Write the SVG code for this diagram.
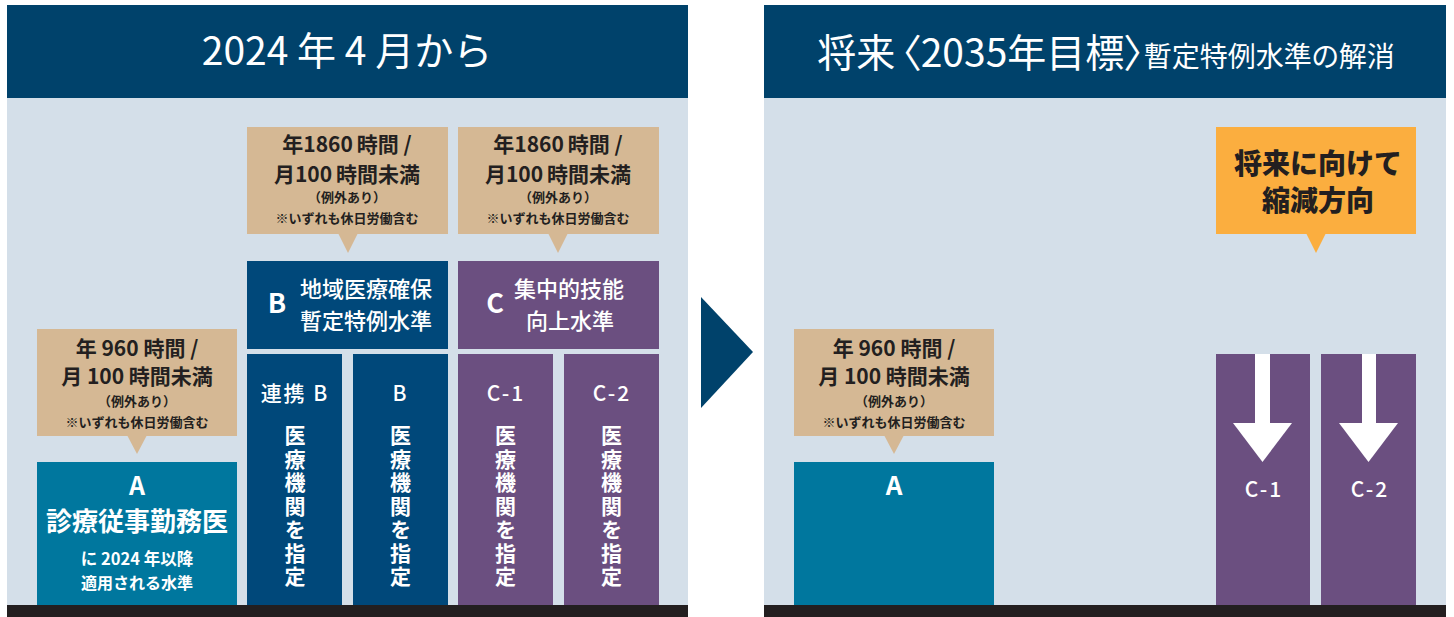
<svg xmlns="http://www.w3.org/2000/svg" width="1454" height="617" viewBox="0 0 1454 617">
<defs>
<style>
text{font-family:'Noto Sans CJK JP','Noto Sans',sans-serif;}
.hdr{fill:#00426b;}
.bg{fill:#d4dfe9;}
.bar{fill:#231f20;}
.tan{fill:#d5b894;}
.org{fill:#fbae3f;}
.teal{fill:#00779e;}
.blue{fill:#00487a;}
.purp{fill:#6b4f80;}
.ht{fill:#ffffff;font-size:39px;font-weight:400;text-anchor:middle;}
.ct1{fill:#231f20;font-size:21px;font-weight:700;text-anchor:middle;}
.ct2{fill:#231f20;font-size:13px;font-weight:700;text-anchor:middle;}
.wt{fill:#ffffff;text-anchor:middle;}
.vt{fill:#ffffff;font-size:21px;font-weight:700;writing-mode:vertical-rl;text-orientation:upright;letter-spacing:2.5px;}
.lab{fill:#ffffff;font-size:21px;font-weight:500;text-anchor:middle;letter-spacing:2px;}
</style>
</defs>
<rect width="1454" height="617" fill="#ffffff"/>

<!-- left panel -->
<g id="panel-left">
<rect class="bg" x="7" y="98" width="681" height="507"/>
<rect class="hdr" x="7" y="5" width="681" height="93"/>
<text class="ht" x="347" y="65" font-size="40">2024 年 4 月から</text>
<rect class="bar" x="7" y="605" width="681" height="12"/>
</g>

<!-- right panel -->
<g id="panel-right">
<rect class="bg" x="764" y="98" width="682" height="507"/>
<rect class="hdr" x="764" y="5" width="682" height="93"/>
<text class="ht" x="1106" y="67" font-size="40" style="font-feature-settings:'palt'">将来<tspan dx="6">〈2035年目標〉</tspan><tspan font-size="28">暫定特例水準の解消</tspan></text>
<rect class="bar" x="764" y="605" width="682" height="12"/>
</g>

<!-- callouts -->
<g id="callout-a-left">
<rect class="tan" x="37" y="329" width="200" height="107"/>
<polygon class="tan" points="127,435 147,435 137,454"/>
<text class="ct1" x="137" y="356">年 960 時間 /</text>
<text class="ct1" x="137" y="384">月 100 時間未満</text>
<text class="ct2" x="137" y="406">（例外あり）</text>
<text class="ct2" x="137" y="427">※いずれも休日労働含む</text>
</g>
<g id="callout-b">
<rect class="tan" x="247" y="127" width="201" height="107"/>
<polygon class="tan" points="338,233 358,233 348,253"/>
<text class="ct1" x="347" y="152">年1860<tspan dx="4">時間 /</tspan></text>
<text class="ct1" x="347" y="182">月100<tspan dx="4">時間未満</tspan></text>
<text class="ct2" x="347" y="202">（例外あり）</text>
<text class="ct2" x="347" y="223">※いずれも休日労働含む</text>
</g>
<g id="callout-c">
<rect class="tan" x="458" y="127" width="201" height="107"/>
<polygon class="tan" points="548,233 568,233 558,253"/>
<text class="ct1" x="558" y="152">年1860<tspan dx="4">時間 /</tspan></text>
<text class="ct1" x="558" y="182">月100<tspan dx="4">時間未満</tspan></text>
<text class="ct2" x="558" y="202">（例外あり）</text>
<text class="ct2" x="558" y="223">※いずれも休日労働含む</text>
</g>
<g id="callout-a-right">
<rect class="tan" x="794" y="329" width="200" height="107"/>
<polygon class="tan" points="884,435 904,435 894,454"/>
<text class="ct1" x="894" y="356">年 960 時間 /</text>
<text class="ct1" x="894" y="384">月 100 時間未満</text>
<text class="ct2" x="894" y="406">（例外あり）</text>
<text class="ct2" x="894" y="427">※いずれも休日労働含む</text>
</g>
<g id="callout-future">
<rect class="org" x="1216" y="127" width="200" height="107"/>
<polygon class="org" points="1306,233 1326,233 1316,253"/>
<text x="1318" y="174" fill="#231f20" font-size="28" font-weight="900" text-anchor="middle">将来に向けて</text>
<text x="1318" y="211" fill="#231f20" font-size="28" font-weight="900" text-anchor="middle">縮減方向</text>
</g>

<!-- left nodes -->
<g id="node-a-left">
<rect class="teal" x="37" y="462" width="200" height="143"/>
<text class="wt" x="137" y="495" font-size="25" font-weight="700">A</text>
<text class="wt" x="137" y="531" font-size="26" font-weight="700">診療従事勤務医</text>
<text class="wt" x="137" y="565" font-size="16.5" font-weight="700">に 2024 年以降</text>
<text class="wt" x="137" y="589" font-size="16" font-weight="700">適用される水準</text>
</g>
<g id="node-b">
<rect class="blue" x="247" y="261" width="201" height="88"/>
<text class="wt" x="277" y="313" font-size="27" font-weight="700">B</text>
<text class="wt" x="366" y="297" font-size="22" font-weight="500">地域医療確保</text>
<text class="wt" x="366" y="329" font-size="22" font-weight="500">暫定特例水準</text>
</g>
<g id="node-c">
<rect class="purp" x="458" y="261" width="201" height="88"/>
<text class="wt" x="495" y="313" font-size="27" font-weight="700">C</text>
<text class="wt" x="569" y="297" font-size="22" font-weight="500">集中的技能</text>
<text class="wt" x="570" y="329" font-size="22" font-weight="500">向上水準</text>
</g>
<g id="node-renkei-b">
<rect class="blue" x="247" y="354" width="95" height="251"/>
<text class="lab" x="295" y="401" letter-spacing="0">連携 B</text>
<text class="vt" x="295" y="425">医療機関を指定</text>
</g>
<g id="node-b-col">
<rect class="blue" x="353" y="354" width="95" height="251"/>
<text class="lab" x="400.5" y="401" letter-spacing="0">B</text>
<text class="vt" x="400.5" y="425">医療機関を指定</text>
</g>
<g id="node-c1">
<rect class="purp" x="458" y="354" width="95" height="251"/>
<text class="lab" x="506" y="401">C-1</text>
<text class="vt" x="505.5" y="425">医療機関を指定</text>
</g>
<g id="node-c2">
<rect class="purp" x="564" y="354" width="95" height="251"/>
<text class="lab" x="612" y="401">C-2</text>
<text class="vt" x="611.5" y="425">医療機関を指定</text>
</g>

<!-- right nodes -->
<g id="node-a-right">
<rect class="teal" x="794" y="462" width="200" height="143"/>
<text class="wt" x="894" y="495" font-size="26" font-weight="700">A</text>
</g>
<g id="node-c1-right">
<rect class="purp" x="1216" y="354" width="94" height="251"/>
<rect x="1255" y="354" width="15" height="70" fill="#ffffff"/>
<polygon points="1233,423 1292,423 1262.5,462" fill="#ffffff"/>
<text class="lab" x="1264" y="497">C-1</text>
</g>
<g id="node-c2-right">
<rect class="purp" x="1321" y="354" width="95" height="251"/>
<rect x="1362" y="354" width="14" height="70" fill="#ffffff"/>
<polygon points="1339,423 1398,423 1368.5,462" fill="#ffffff"/>
<text class="lab" x="1370" y="497">C-2</text>
</g>

<!-- connectors -->
<g id="connectors">
<polygon points="701,297 753,352 701,408" fill="#00426b"/>
</g>
</svg>
